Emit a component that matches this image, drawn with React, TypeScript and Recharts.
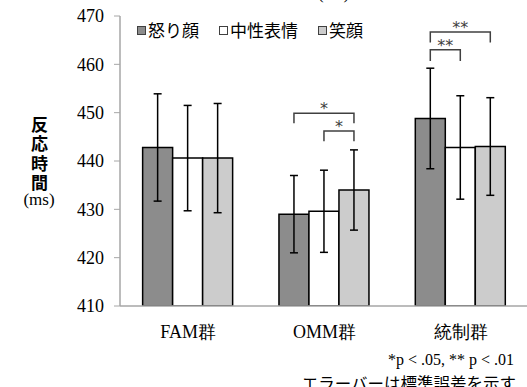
import React from "react";
import { BarChart, Bar, XAxis, YAxis, ErrorBar, LabelList } from "recharts";

const groups = ["FAM群", "OMM群", "統制群"];
const seriesNames = ["怒り顔", "中性表情", "笑顔"];
const seriesColors = ["#8c8c8c", "#ffffff", "#cccccc"];

const anger = [442.8, 429.0, 448.8];
const neutral = [440.6, 429.6, 442.8];
const smile = [440.6, 434.0, 443.0];
const angerErr = [11.1, 8.0, 10.4];
const neutralErr = [10.9, 8.5, 10.7];
const smileErr = [11.3, 8.3, 10.1];

const yTicks = [410, 420, 430, 440, 450, 460, 470];
const Y_MIN = 410;

// significance brackets (values in ms)
const bracketGroup = [1, 1, 2, 2];
const bracketFrom = [0, 1, 0, 0];
const bracketTo = [2, 2, 2, 1];
const bracketTop = [449.9, 446.2, 466.7, 463.0];
const bracketLeg = [447.8, 444.1, 464.5, 460.7];
const bracketMark = ["*", "*", "**", "**"];

const data = groups.map((g, i) => ({
  group: g,
  anger: anger[i],
  neutral: neutral[i],
  smile: smile[i],
  angerErr: angerErr[i],
  neutralErr: neutralErr[i],
  smileErr: smileErr[i],
}));

const serif = '"Liberation Serif", "Times New Roman", serif';
const gothic = '"Noto Sans CJK JP", "Noto Sans", sans-serif';

// drawn from the 笑顔 bar of each group, uses that bar's geometry for the scale
const renderBrackets = (props: any) => {
  const index = props.index;
  const vb = props.viewBox || {};
  const x = Number(vb.x ?? props.x);
  const y = Number(vb.y ?? props.y);
  const w = Number(vb.width ?? props.width);
  const h = Number(vb.height ?? props.height);
  const v = smile[index];
  if (!isFinite(x) || !isFinite(h)) return null;
  const py = (val: number) => y + h - ((val - Y_MIN) * h) / (v - Y_MIN);
  const cx = (k: number) => x + w / 2 - (2 - k) * w;
  const out: React.ReactNode[] = [];
  bracketGroup.forEach((g, i) => {
    if (g !== index) return;
    const x1 = cx(bracketFrom[i]);
    const x2 = cx(bracketTo[i]);
    const top = py(bracketTop[i]);
    const leg = py(bracketLeg[i]);
    out.push(
      <g key={i}>
        <path
          d={`M${x1},${leg}V${top}H${x2}V${leg}`}
          fill="none"
          stroke="#404040"
          strokeWidth={1.5}
        />
        <text
          x={(x1 + x2) / 2}
          y={top + 1}
          textAnchor="middle"
          fontSize={16}
          fontFamily='"DejaVu Sans", sans-serif'
          fill="#404040"
        >
          {bracketMark[i]}
        </text>
      </g>
    );
  });
  return <g>{out}</g>;
};

export default function App() {
  return (
    <div
      style={{
        position: "absolute",
        left: 0,
        top: 0,
        width: 527,
        height: 387,
        overflow: "hidden",
        background: "#fff",
      }}
    >
      <BarChart
        width={530}
        height={387}
        data={data}
        margin={{ top: 16, right: 1, bottom: 51, left: 0 }}
        barCategoryGap="16.6%"
        barGap={0}
      >
        <XAxis
          dataKey="group"
          height={30}
          tickLine={false}
          axisLine={{ stroke: "#a6a6a6", strokeWidth: 1.5 }}
          tickMargin={13}
          tick={{ fontSize: 18, fill: "#000", fontFamily: serif }}
        />
        <YAxis
          width={120}
          domain={[410, 470]}
          ticks={yTicks}
          allowDataOverflow
          tickSize={6}
          tickMargin={10}
          axisLine={{ stroke: "#a6a6a6", strokeWidth: 1.5 }}
          tickLine={{ stroke: "#a6a6a6" }}
          tick={{ fontSize: 18, fill: "#000", fontFamily: serif }}
        />
        <Bar dataKey="anger" fill={seriesColors[0]} stroke="#000" strokeWidth={1.5} isAnimationActive={false}>
          <ErrorBar dataKey="angerErr" width={4} stroke="#000" strokeWidth={1.5} />
        </Bar>
        <Bar dataKey="neutral" fill={seriesColors[1]} stroke="#000" strokeWidth={1.5} isAnimationActive={false}>
          <ErrorBar dataKey="neutralErr" width={4} stroke="#000" strokeWidth={1.5} />
        </Bar>
        <Bar dataKey="smile" fill={seriesColors[2]} stroke="#000" strokeWidth={1.5} isAnimationActive={false}>
          <ErrorBar dataKey="smileErr" width={4} stroke="#000" strokeWidth={1.5} />
          <LabelList dataKey="smile" content={renderBrackets} />
        </Bar>
      </BarChart>

      {/* legend */}
      <div
        style={{
          position: "absolute",
          left: 137,
          top: 19,
          display: "flex",
          gap: 20,
          fontFamily: gothic,
          fontSize: 17,
          lineHeight: "22px",
          color: "#000",
        }}
      >
        {seriesNames.map((n, i) => (
          <div key={n} style={{ display: "flex", alignItems: "center" }}>
            <span
              style={{
                display: "inline-block",
                width: 7,
                height: 7,
                border: "1px solid #404040",
                background: seriesColors[i],
                marginRight: 2,
              }}
            />
            {n}
          </div>
        ))}
      </div>

      {/* clipped unit above */}
      <div style={{ position: "absolute", left: 318, top: -15, fontFamily: serif, fontSize: 17, lineHeight: "17px" }}>
        (ms)
      </div>

      {/* y axis title */}
      <div
        style={{
          position: "absolute",
          left: 29,
          top: 116,
          writingMode: "vertical-rl",
          letterSpacing: "2.5px",
          fontFamily: gothic,
          fontWeight: "bold",
          fontSize: 17,
          lineHeight: "20px",
        }}
      >
        反応時間
      </div>
      <div
        style={{
          position: "absolute",
          left: 19,
          top: 190,
          width: 40,
          textAlign: "center",
          fontFamily: serif,
          fontSize: 17,
          lineHeight: "20px",
        }}
      >
        (ms)
      </div>

      {/* notes */}
      <div
        style={{
          position: "absolute",
          right: 13,
          top: 350,
          textAlign: "right",
          fontFamily: serif,
          fontSize: 16,
          lineHeight: "20px",
        }}
      >
        *p &lt; .05, ** p &lt; .01
      </div>
      <div
        style={{
          position: "absolute",
          right: 11,
          top: 372,
          textAlign: "right",
          fontFamily: gothic,
          fontSize: 16.5,
          lineHeight: "22px",
          whiteSpace: "nowrap",
        }}
      >
        エラーバーは標準誤差を示す
      </div>
    </div>
  );
}
